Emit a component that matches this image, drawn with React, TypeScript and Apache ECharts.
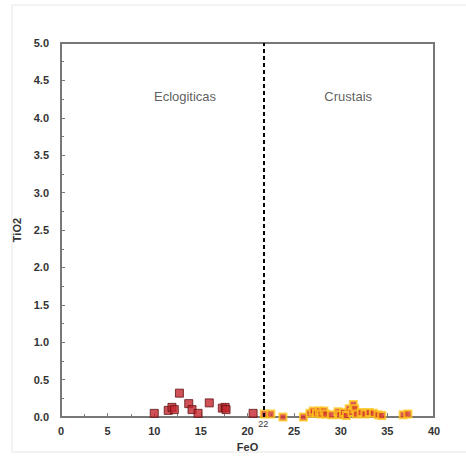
import React, { useEffect, useRef } from "react";
import * as echarts from "echarts";

const eclogiticasFeO = [10.0, 11.5, 11.9, 12.15, 12.7, 13.7, 14.05, 14.7, 15.9, 17.3, 17.6, 17.7, 20.6];
const eclogiticasTiO2 = [0.05, 0.09, 0.13, 0.10, 0.32, 0.18, 0.10, 0.05, 0.19, 0.12, 0.13, 0.10, 0.05];

const crustaisFeO = [21.8, 22.5, 23.8, 26.0, 26.7, 27.05, 27.4, 27.7, 27.9, 28.2, 28.4, 29.0, 29.7, 29.9, 30.3, 30.6, 30.9, 31.2, 31.35, 31.5, 31.7, 32.2, 32.6, 33.06, 33.5, 34.0, 34.4, 36.7, 37.2];
const crustaisTiO2 = [0.04, 0.04, 0.0, 0.0, 0.05, 0.08, 0.05, 0.08, 0.04, 0.08, 0.04, 0.03, 0.07, 0.03, 0.06, 0.02, 0.11, 0.06, 0.17, 0.11, 0.04, 0.06, 0.04, 0.06, 0.05, 0.03, 0.02, 0.03, 0.04];

const dividerFeO = 21.7;
const dividerLabel = "22";
const regionLabels = ["Eclogiticas", "Crustais"];
const regionLabelFeO = [13.3, 30.8];
const regionLabelTiO2 = 4.29;

export default function App() {
  const ref = useRef<HTMLDivElement>(null);
  useEffect(() => {
    if (!ref.current) return;
    const chart = echarts.init(ref.current, null, { renderer: "svg" });
    const axisColor = "#777";
    const labelStyle = { color: "#333", fontWeight: "bold" as const, fontSize: 11, fontFamily: "Liberation Sans, Arial, sans-serif" };
    chart.setOption({
      animation: false,
      backgroundColor: "#fff",
      graphic: [
        {
          type: "rect",
          shape: { x: 12, y: 5, width: 470, height: 447 },
          style: { fill: "none", stroke: "#e6e6e6", lineWidth: 1 },
          silent: true,
        },
      ],
      grid: { left: 61, top: 43, right: 32, bottom: 39, show: true, borderColor: axisColor, borderWidth: 2, backgroundColor: "transparent" },
      xAxis: {
        type: "value",
        min: 0,
        max: 40,
        interval: 5,
        name: "FeO",
        nameLocation: "middle",
        nameGap: 17,
        nameTextStyle: labelStyle,
        axisLine: { show: true, lineStyle: { color: axisColor, width: 2 } },
        axisTick: { show: true, inside: true, length: 4, lineStyle: { color: axisColor } },
        minorTick: { show: true, splitNumber: 2, length: 3, lineStyle: { color: axisColor } },
        splitLine: { show: false },
        axisLabel: { ...labelStyle, margin: 8 },
      },
      yAxis: {
        type: "value",
        min: 0,
        max: 5,
        interval: 0.5,
        name: "TiO2",
        nameLocation: "middle",
        nameGap: 37,
        nameTextStyle: labelStyle,
        axisLine: { show: true, lineStyle: { color: axisColor, width: 2 } },
        axisTick: { show: true, inside: true, length: 4, lineStyle: { color: axisColor } },
        minorTick: { show: true, splitNumber: 2, length: 3, lineStyle: { color: axisColor } },
        splitLine: { show: false },
        axisLabel: { ...labelStyle, margin: 12, formatter: (v: number) => v.toFixed(1) },
      },
      series: [
        {
          name: "Eclogiticas",
          type: "scatter",
          symbol: "rect",
          symbolSize: 8,
          data: eclogiticasFeO.map((x, i) => [x, eclogiticasTiO2[i]]),
          itemStyle: { color: "#c4262e", borderColor: "#5e1414", borderWidth: 1 },
          markLine: {
            silent: true,
            symbol: "none",
            lineStyle: { color: "#000", type: [4, 3], width: 2 },
            label: { show: true, position: "start", formatter: dividerLabel, color: "#333", fontSize: 9, fontFamily: "Liberation Sans, Arial, sans-serif", distance: 2 },
            data: [{ xAxis: dividerFeO }],
          },
        },
        {
          name: "Crustais",
          type: "scatter",
          symbol: "rect",
          symbolSize: 7,
          data: crustaisFeO.map((x, i) => [x, crustaisTiO2[i]]),
          itemStyle: { color: "#d2322a", borderColor: "#ffc81e", borderWidth: 2 },
        },
        {
          name: "labels",
          type: "scatter",
          symbolSize: 0,
          silent: true,
          data: regionLabels.map((t, i) => ({ value: [regionLabelFeO[i], regionLabelTiO2], name: t })),
          label: {
            show: true,
            position: "inside",
            formatter: (p: any) => p.name,
            color: "#333",
            fontSize: 13,
            fontFamily: "Liberation Sans, Arial, sans-serif",
          },
        },
      ],
    });
    return () => chart.dispose();
  }, []);
  return <div ref={ref} style={{ position: "fixed", left: 0, top: 0, width: 466, height: 457 }} />;
}
